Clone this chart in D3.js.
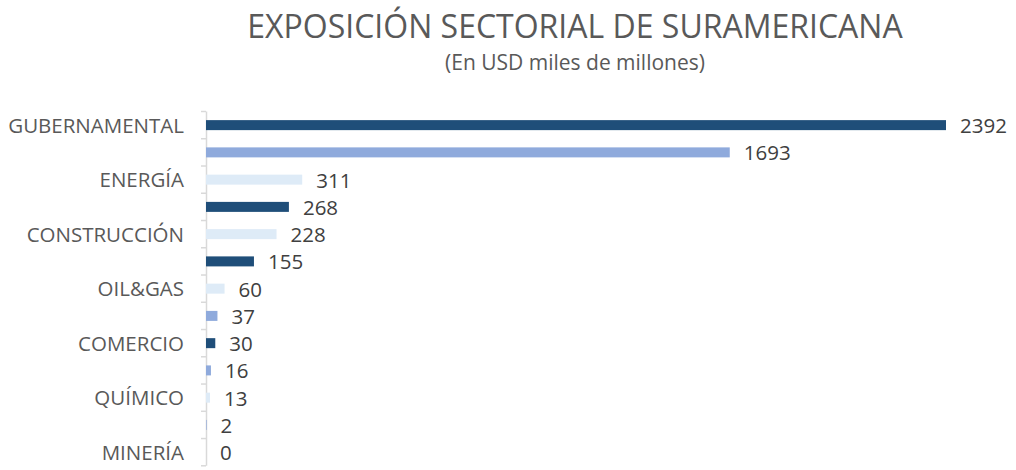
<!DOCTYPE html>
<html lang="es">
    <head>
        <meta charset="utf-8">
        <title>Exposición sectorial</title>
        <script src="https://cdn.jsdelivr.net/npm/d3@7/dist/d3.min.js"></script>
        <style>
            body { margin: 0; background: #fff; }
            text { font-family: "Open Sans", sans-serif; }
        </style>
    </head>
    <body>
        <script>

        var w = 1016;
        var h = 470;

        // only every other label is shown on the axis
        var categorias = ["GUBERNAMENTAL", "", "ENERGÍA", "", "CONSTRUCCIÓN", "",
                          "OIL&GAS", "", "COMERCIO", "", "QUÍMICO", "", "MINERÍA"];
        var valores = [2392, 1693, 311, 268, 228, 155, 60, 37, 30, 16, 13, 2, 0];
        var grupos = ["A", "B", "C", "A", "C", "A", "C", "B", "A", "B", "C", "B", "C"];

        var svg = d3.select("body")
            .append("svg")
            .attr("width", w)
            .attr("height", h);

        var x = d3.scaleLinear()
            .domain([0, 2392])
            .range([206, 946]);

        var y = d3.scaleBand()
            .domain(d3.range(valores.length))
            .range([111.5, 465.8]);

        var color = d3.scaleOrdinal()
            .domain(["A", "B", "C"])
            .range(["#1f4e79", "#8faadc", "#deebf7"]);

        // title
        svg.append("text")
           .attr("x", 575)
           .attr("y", 38)
           .attr("text-anchor", "middle")
           .attr("font-size", "32px")
           .attr("fill", "#595959")
           .text("EXPOSICIÓN SECTORIAL DE SURAMERICANA");

        svg.append("text")
           .attr("x", 575)
           .attr("y", 70)
           .attr("text-anchor", "middle")
           .attr("font-size", "21px")
           .attr("fill", "#595959")
           .text("(En USD miles de millones)");

        // category labels
        var yAxis = d3.axisLeft(y)
            .tickSize(0)
            .tickFormat(function(i) { return categorias[i]; });

        var gAxis = svg.append("g")
            .attr("transform", "translate(206,0)")
            .call(yAxis);

        gAxis.select(".domain").remove();
        gAxis.selectAll("text")
            .attr("x", -22)
            .attr("dy", "7.5px")
            .attr("font-size", "20.5px")
            .attr("font-family", "Open Sans, sans-serif")
            .attr("fill", "#595959");

        // axis line + ticks between categories
        svg.append("line")
           .attr("x1", 206.5).attr("x2", 206.5)
           .attr("y1", y.range()[0]).attr("y2", y.range()[1])
           .attr("stroke", "#d9d9d9")
           .attr("stroke-width", 1.5);

        var bordes = d3.range(valores.length + 1).map(function(i) {
            return y.range()[0] + i * y.step();
        });

        svg.selectAll("line.tick")
           .data(bordes)
           .enter()
           .append("line")
           .attr("class", "tick")
           .attr("x1", 201).attr("x2", 206)
           .attr("y1", function(d) { return d; })
           .attr("y2", function(d) { return d; })
           .attr("stroke", "#d9d9d9")
           .attr("stroke-width", 1.5);

        // bars
        var barH = 10;
        svg.selectAll("rect")
           .data(valores)
           .enter()
           .append("rect")
           .attr("x", x(0))
           .attr("y", function(d, i) {
               return y(i) + y.bandwidth() / 2 - barH / 2;
           })
           .attr("width", function(d) { return x(d) - x(0); })
           .attr("height", barH)
           .attr("fill", function(d, i) { return color(grupos[i]); });

        // value labels
        svg.selectAll("text.valor")
           .data(valores)
           .enter()
           .append("text")
           .attr("class", "valor")
           .attr("x", function(d) { return x(d) + 14; })
           .attr("y", function(d, i) {
               return y(i) + y.bandwidth() / 2 + 8;
           })
           .attr("font-size", "20.5px")
           .attr("fill", "#404040")
           .text(function(d) { return d; });

        </script>
    </body>
</html>
